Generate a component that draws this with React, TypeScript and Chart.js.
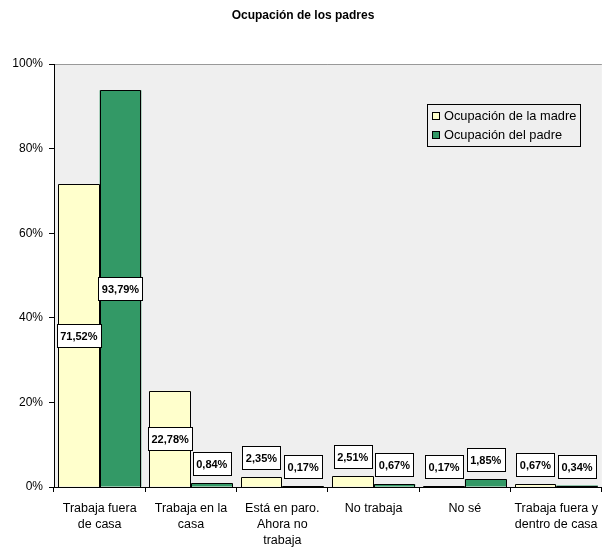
import React, { useEffect, useRef } from "react";
import { Chart, registerables } from "chart.js";

Chart.register(...registerables);

const TITLE = "Ocupación de los padres";
const categories: (string | string[])[] = [
  ["Trabaja fuera", "de casa"],
  ["Trabaja en la", "casa"],
  ["Está en paro.", "Ahora no", "trabaja"],
  "No trabaja",
  "No sé",
  ["Trabaja fuera y", "dentro de casa"],
];
const seriesNames = ["Ocupación de la madre", "Ocupación del padre"];
const madre = [71.52, 22.78, 2.35, 2.51, 0.17, 0.67];
const padre = [93.79, 0.84, 0.17, 0.67, 1.85, 0.34];
const colors = ["#FFFFCC", "#339966"];
const FONT = '"Liberation Sans", Arial, sans-serif';

const fmt = (v: number) => v.toFixed(2).replace(".", ",") + "%";

const decorPlugin = {
  id: "decor",
  beforeDraw(chart: any) {
    const { ctx, chartArea: a } = chart;
    ctx.save();
    ctx.fillStyle = "#EFEFEF";
    ctx.fillRect(a.left, a.top, a.right - a.left, a.bottom - a.top);
    ctx.strokeStyle = "#999999";
    ctx.lineWidth = 1;
    ctx.beginPath();
    ctx.moveTo(a.left, Math.round(a.top) + 0.5);
    ctx.lineTo(a.right, Math.round(a.top) + 0.5);
    ctx.stroke();
    ctx.restore();
  },
  afterDraw(chart: any) {
    const { ctx } = chart;
    ctx.save();
    // title
    ctx.fillStyle = "#000";
    ctx.font = `bold 12px ${FONT}`;
    ctx.textAlign = "center";
    ctx.textBaseline = "middle";
    ctx.fillText(TITLE, 303, 16);
    // legend
    const lx = 427.5, ly = 104.5, lw = 153, lh = 42;
    ctx.fillStyle = "#EFEFEF";
    ctx.fillRect(lx, ly, lw, lh);
    ctx.strokeStyle = "#000";
    ctx.lineWidth = 1;
    ctx.strokeRect(lx, ly, lw, lh);
    ctx.font = `12.8px ${FONT}`;
    ctx.textAlign = "left";
    chart.data.datasets.forEach((ds: any, i: number) => {
      const cy = 116 + i * 19;
      ctx.fillStyle = ds.backgroundColor;
      ctx.fillRect(432.5, cy - 3.5, 7, 7);
      ctx.strokeStyle = "#000";
      ctx.strokeRect(432.5, cy - 3.5, 7, 7);
      ctx.fillStyle = "#000";
      ctx.fillText(ds.label, 444, cy + 0.5);
    });
    ctx.restore();
  },
  afterDatasetsDraw(chart: any) {
    const { ctx } = chart;
    ctx.save();
    // crisp bar outlines
    ctx.strokeStyle = "#000";
    ctx.lineWidth = 1;
    chart.data.datasets.forEach((ds: any, di: number) => {
      const meta = chart.getDatasetMeta(di);
      meta.data.forEach((el: any) => {
        const L = Math.round(el.x - el.width / 2) + 0.5;
        const R = Math.round(el.x + el.width / 2) - 0.5;
        const T = Math.round(el.y) + 0.5;
        const B = Math.round(el.base);
        ctx.beginPath();
        ctx.moveTo(L, B);
        ctx.lineTo(L, T);
        ctx.lineTo(R, T);
        ctx.lineTo(R, B);
        ctx.stroke();
      });
    });
    // data labels
    ctx.font = `bold 11px ${FONT}`;
    ctx.textAlign = "center";
    ctx.textBaseline = "middle";
    chart.data.datasets.forEach((ds: any, di: number) => {
      const meta = chart.getDatasetMeta(di);
      meta.data.forEach((el: any, i: number) => {
        const v = ds.data[i];
        const text = fmt(v);
        const w = Math.round(ctx.measureText(text).width + 7);
        const h = 23;
        const barH = el.base - el.y;
        let cy: number;
        if (barH > h + 10) cy = (el.y + el.base) / 2;
        else cy = el.y - 8 - h / 2;
        const x0 = Math.round(el.x - w / 2) + 0.5;
        const y0 = Math.round(cy - h / 2) + 0.5;
        ctx.fillStyle = "#FFFFFF";
        ctx.fillRect(x0, y0, w, h);
        ctx.strokeStyle = "#000";
        ctx.lineWidth = 1;
        ctx.strokeRect(x0, y0, w, h);
        ctx.fillStyle = "#000";
        ctx.fillText(text, el.x, y0 + h / 2 + 0.5);
      });
    });
    ctx.restore();
  },
};

export default function App() {
  const ref = useRef<HTMLCanvasElement | null>(null);
  useEffect(() => {
    if (!ref.current) return;
    Chart.defaults.font.family = FONT;
    const chart = new Chart(ref.current, {
      type: "bar",
      data: {
        labels: categories,
        datasets: [
          {
            label: seriesNames[0],
            data: madre,
            backgroundColor: colors[0],
            borderWidth: 0,
          },
          {
            label: seriesNames[1],
            data: padre,
            backgroundColor: colors[1],
            borderWidth: 0,
          },
        ],
      },
      options: {
        animation: false,
        responsive: false,
        devicePixelRatio: 1,
        layout: { padding: { top: 64, left: 0, right: 0, bottom: 0 } },
        plugins: {
          legend: { display: false },
          title: { display: false },
          tooltip: { enabled: false },
        },
        datasets: {
          bar: { categoryPercentage: 0.913, barPercentage: 1 },
        },
        scales: {
          x: {
            grid: {
              drawOnChartArea: false,
              drawTicks: true,
              tickLength: 5,
              color: "#000",
              offset: true,
            },
            border: { color: "#000", width: 1 },
            ticks: {
              color: "#000",
              font: { size: 12.5, lineHeight: 1.3 },
              padding: 8,
              autoSkip: false,
              maxRotation: 0,
              minRotation: 0,
            },
            afterFit(scale: any) {
              scale.height = 61;
            },
          },
          y: {
            min: 0,
            max: 100,
            grid: {
              drawOnChartArea: false,
              drawTicks: true,
              tickLength: 5,
              color: "#000",
            },
            border: { color: "#000", width: 1 },
            ticks: {
              stepSize: 20,
              color: "#000",
              font: { size: 12 },
              padding: 6,
              callback: (v: any) => v + "%",
            },
            afterFit(scale: any) {
              scale.width = 54;
            },
          },
        },
      },
      plugins: [decorPlugin],
    });
    return () => chart.destroy();
  }, []);
  return (
    <div
      style={{
        position: "absolute",
        left: 0,
        top: 0,
        width: 603,
        height: 548,
        overflow: "hidden",
        background: "#fff",
      }}
    >
      <canvas ref={ref} width={606} height={548} style={{ display: "block" }} />
    </div>
  );
}
